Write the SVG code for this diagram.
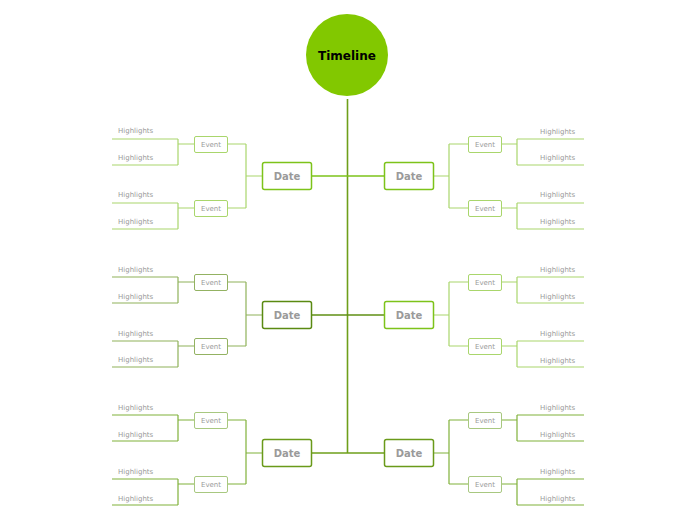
<svg xmlns="http://www.w3.org/2000/svg" width="696" height="520" viewBox="0 0 696 520">
<style>
text{font-family:"DejaVu Sans","Verdana",sans-serif;fill:#9a9a9a}
.h{font-size:7px}
.e{font-size:7px;text-anchor:middle}
.d{font-size:10px;font-weight:bold;text-anchor:middle}
.ln{fill:none;stroke-width:1.2}
.a{stroke:#a9d66c}
.b{stroke:#8fb25a}
.c{stroke:#80b13a}
.db{fill:#fff;stroke-width:1.5}
.eb{fill:#fff;stroke-width:1}
</style>
<rect width="696" height="520" fill="#fff"/>
<g id="connectors">
<line x1="347.5" y1="99" x2="347.5" y2="453" stroke="#6e9f1a" stroke-width="1.6"/>
<line x1="311" y1="176" x2="384" y2="176" stroke="#7dc31a" stroke-width="1.3"/>
<line x1="311" y1="315" x2="384" y2="315" stroke="#5f8f14" stroke-width="1.3"/>
<line x1="311" y1="453" x2="384" y2="453" stroke="#6e9f1a" stroke-width="1.3"/>
<!-- row1 left -->
<path class="ln a" d="M262 176H246M246 144V208M246 144H228M246 208H228"/>
<path class="ln a" d="M194 144H178M178 139V165M178 139H112M178 165H112M194 208H178M178 203V229M178 203H112M178 229H112"/>
<!-- row1 right -->
<path class="ln a" d="M433 176H449M449 144V208M449 144H468M449 208H468"/>
<path class="ln a" d="M502 144H517M517 139V165M517 139H584M517 165H584M502 208H517M517 203V229M517 203H584M517 229H584"/>
<!-- row2 left -->
<path class="ln b" d="M262 315H246M246 282V346M246 282H228M246 346H228"/>
<path class="ln b" d="M194 282H178M178 277V303M178 277H112M178 303H112M194 346H178M178 341V367M178 341H112M178 367H112"/>
<!-- row2 right -->
<path class="ln a" d="M433 315H449M449 282V346M449 282H468M449 346H468"/>
<path class="ln a" d="M502 282H517M517 277V303M517 277H584M517 303H584M502 346H517M517 341V367M517 341H584M517 367H584"/>
<!-- row3 left -->
<path class="ln c" d="M262 453H246M246 420V484M246 420H228M246 484H228"/>
<path class="ln c" d="M194 420H178M178 415V441M178 415H112M178 441H112M194 484H178M178 479V505M178 479H112M178 505H112"/>
<!-- row3 right -->
<path class="ln c" d="M433 453H449M449 420V484M449 420H468M449 484H468"/>
<path class="ln c" d="M502 420H517M517 415V441M517 415H584M517 441H584M502 484H517M517 479V505M517 479H584M517 505H584"/>
</g>
<g id="root">
<circle cx="347" cy="55" r="41" fill="#82c800"/>
<text x="347" y="60" style="font-size:12px;font-weight:bold;fill:#000;text-anchor:middle">Timeline</text>
</g>
<g id="date-l1"><rect class="db" x="262.5" y="162.5" width="49" height="27" rx="2" stroke="#7dc31a"/><text class="d" x="287" y="180">Date</text></g>
<g id="date-r1"><rect class="db" x="384.5" y="162.5" width="49" height="27" rx="2" stroke="#7dc31a"/><text class="d" x="409" y="180">Date</text></g>
<g id="date-l2"><rect class="db" x="262.5" y="301.5" width="49" height="27" rx="2" stroke="#5a8a12"/><text class="d" x="287" y="319">Date</text></g>
<g id="date-r2"><rect class="db" x="384.5" y="301.5" width="49" height="27" rx="2" stroke="#7dc31a"/><text class="d" x="409" y="319">Date</text></g>
<g id="date-l3"><rect class="db" x="262.5" y="439.5" width="49" height="27" rx="2" stroke="#6a9a1a"/><text class="d" x="287" y="457">Date</text></g>
<g id="date-r3"><rect class="db" x="384.5" y="439.5" width="49" height="27" rx="2" stroke="#6a9a1a"/><text class="d" x="409" y="457">Date</text></g>
<g id="ev-l1a"><rect class="eb" x="194.5" y="136.5" width="33" height="16" rx="1.5" stroke="#a9d66c"/><text class="e" x="211" y="147">Event</text></g>
<g id="ev-l1b"><rect class="eb" x="194.5" y="200.5" width="33" height="16" rx="1.5" stroke="#a9d66c"/><text class="e" x="211" y="211">Event</text></g>
<g id="ev-r1a"><rect class="eb" x="468.5" y="136.5" width="33" height="16" rx="1.5" stroke="#a9d66c"/><text class="e" x="485" y="147">Event</text></g>
<g id="ev-r1b"><rect class="eb" x="468.5" y="200.5" width="33" height="16" rx="1.5" stroke="#a9d66c"/><text class="e" x="485" y="211">Event</text></g>
<g id="ev-l2a"><rect class="eb" x="194.5" y="274.5" width="33" height="16" rx="1.5" stroke="#93b262"/><text class="e" x="211" y="285">Event</text></g>
<g id="ev-l2b"><rect class="eb" x="194.5" y="338.5" width="33" height="16" rx="1.5" stroke="#93b262"/><text class="e" x="211" y="349">Event</text></g>
<g id="ev-r2a"><rect class="eb" x="468.5" y="274.5" width="33" height="16" rx="1.5" stroke="#a9d66c"/><text class="e" x="485" y="285">Event</text></g>
<g id="ev-r2b"><rect class="eb" x="468.5" y="338.5" width="33" height="16" rx="1.5" stroke="#a9d66c"/><text class="e" x="485" y="349">Event</text></g>
<g id="ev-l3a"><rect class="eb" x="194.5" y="412.5" width="33" height="16" rx="1.5" stroke="#a8c880"/><text class="e" x="211" y="423">Event</text></g>
<g id="ev-l3b"><rect class="eb" x="194.5" y="476.5" width="33" height="16" rx="1.5" stroke="#a8c880"/><text class="e" x="211" y="487">Event</text></g>
<g id="ev-r3a"><rect class="eb" x="468.5" y="412.5" width="33" height="16" rx="1.5" stroke="#a8c880"/><text class="e" x="485" y="423">Event</text></g>
<g id="ev-r3b"><rect class="eb" x="468.5" y="476.5" width="33" height="16" rx="1.5" stroke="#a8c880"/><text class="e" x="485" y="487">Event</text></g>
<g id="highlights">
<text class="h" x="118" y="133">Highlights</text><text class="h" x="118" y="160">Highlights</text>
<text class="h" x="118" y="197">Highlights</text><text class="h" x="118" y="224">Highlights</text>
<text class="h" x="118" y="272">Highlights</text><text class="h" x="118" y="299">Highlights</text>
<text class="h" x="118" y="336">Highlights</text><text class="h" x="118" y="362">Highlights</text>
<text class="h" x="118" y="410">Highlights</text><text class="h" x="118" y="437">Highlights</text>
<text class="h" x="118" y="474">Highlights</text><text class="h" x="118" y="501">Highlights</text>
<text class="h" x="540" y="134">Highlights</text><text class="h" x="540" y="160">Highlights</text>
<text class="h" x="540" y="197">Highlights</text><text class="h" x="540" y="224">Highlights</text>
<text class="h" x="540" y="272">Highlights</text><text class="h" x="540" y="299">Highlights</text>
<text class="h" x="540" y="336">Highlights</text><text class="h" x="540" y="363">Highlights</text>
<text class="h" x="540" y="410">Highlights</text><text class="h" x="540" y="437">Highlights</text>
<text class="h" x="540" y="474">Highlights</text><text class="h" x="540" y="501">Highlights</text>
</g>
</svg>
